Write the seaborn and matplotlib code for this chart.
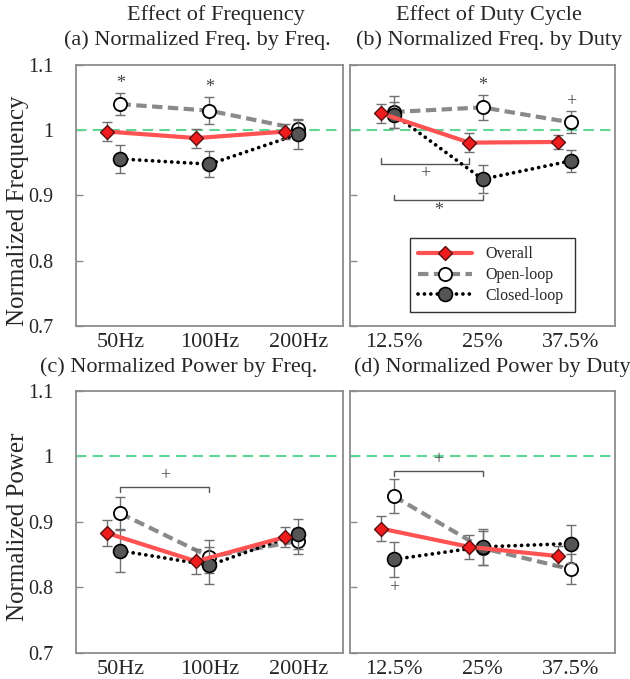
import numpy as np
import pandas as pd
import matplotlib
matplotlib.use("Agg")
import matplotlib.pyplot as plt
import seaborn as sns

# ---------------------------------------------------------
# Data
# ---------------------------------------------------------
freq_labels = ["50Hz", "100Hz", "200Hz"]
duty_labels = ["12.5%", "25%", "37.5%"]
series_names = ["Overall", "Open-loop", "Closed-loop"]

# (a) normalized frequency by stimulation frequency
a_overall = [0.998, 0.988, 0.998]
a_overall_err = [0.014, 0.0145, 0.012]
a_open = [1.040, 1.030, 1.002]
a_open_err = [0.017, 0.021, 0.015]
a_closed = [0.956, 0.948, 0.994]
a_closed_err = [0.022, 0.020, 0.022]

# (b) normalized frequency by duty cycle
b_overall = [1.026, 0.981, 0.982]
b_overall_err = [0.0145, 0.015, 0.010]
b_open = [1.028, 1.035, 1.012]
b_open_err = [0.024, 0.019, 0.017]
b_closed = [1.024, 0.925, 0.953]
b_closed_err = [0.020, 0.021, 0.017]

# (c) normalized power by stimulation frequency
c_overall = [0.883, 0.840, 0.877]
c_overall_err = [0.020, 0.019, 0.015]
c_open = [0.913, 0.847, 0.871]
c_open_err = [0.025, 0.025, 0.020]
c_closed = [0.856, 0.834, 0.882]
c_closed_err = [0.033, 0.028, 0.023]

# (d) normalized power by duty cycle
d_overall = [0.890, 0.862, 0.848]
d_overall_err = [0.019, 0.018, 0.015]
d_open = [0.939, 0.860, 0.828]
d_open_err = [0.026, 0.026, 0.023]
d_closed = [0.843, 0.862, 0.867]
d_closed_err = [0.027, 0.028, 0.029]

# significance marks on single points: (series, category index, symbol, side)
a_marks = [("Open-loop", 0, "*", "above"), ("Open-loop", 1, "*", "above")]
b_marks = [("Open-loop", 1, "*", "above"), ("Open-loop", 2, "+", "above")]
c_marks = []
d_marks = [("Closed-loop", 0, "+", "below")]

# brackets: (series from, idx from, series to, idx to, level, symbol, open direction)
a_brackets = []
b_brackets = [("Overall", 0, "Overall", 1, 0.949, "+", "up"),
              ("Closed-loop", 0, "Closed-loop", 1, 0.893, "*", "up")]
c_brackets = [("Open-loop", 0, "Open-loop", 1, 0.954, "+", "down")]
d_brackets = [("Open-loop", 0, "Open-loop", 1, 0.978, "+", "down")]

# ---------------------------------------------------------
# Styling
# ---------------------------------------------------------
sns.set_theme(style="white")
plt.rcParams["font.family"] = ["Liberation Serif", "DejaVu Serif"]

offsets = {"Overall": -0.15, "Open-loop": 0.0, "Closed-loop": 0.0}
styles = {
    "Overall": dict(color="#ff5252", linestyle="-", linewidth=3.0, marker="D",
                    markersize=7.5, markerfacecolor="#ee1c1c",
                    markeredgecolor="#5a1010", markeredgewidth=1.0, zorder=5),
    "Open-loop": dict(color="#8a8a8a", linestyle=(0, (2.5, 1.3)), linewidth=3.0,
                      marker="o", markersize=9.5, markerfacecolor="white",
                      markeredgecolor="black", markeredgewidth=1.3, zorder=3),
    "Closed-loop": dict(color="black", linestyle=(0, (0.01, 1.7)), linewidth=2.7,
                        dash_capstyle="round",
                        marker="o", markersize=10, markerfacecolor="#555555",
                        markeredgecolor="black", markeredgewidth=1.2, zorder=4),
}
spine_col = "#8c8c8c"
err_col = "#707070"
mark_col = "#444444"


def build_frame(labels, overall, overall_err, opn, opn_err, closed, closed_err):
    rows = []
    for name, vals, errs in [("Overall", overall, overall_err),
                             ("Open-loop", opn, opn_err),
                             ("Closed-loop", closed, closed_err)]:
        for i, (v, e) in enumerate(zip(vals, errs)):
            rows.append({"series": name, "idx": i, "label": labels[i],
                         "x": i + offsets[name], "value": v, "err": e})
    return pd.DataFrame(rows)


def draw_panel(ax, df, labels, marks, brackets, show_ylabels=True, legend=False):
    ax.axhline(1.0, color="#5fd694", linestyle=(0, (5, 3)), linewidth=1.5, zorder=1)
    for name in ["Open-loop", "Closed-loop", "Overall"]:
        sub = df[df["series"] == name]
        st = styles[name]
        ax.errorbar(sub["x"], sub["value"], yerr=sub["err"], fmt="none",
                    ecolor=err_col, elinewidth=1.0, capsize=3.5, capthick=1.0,
                    zorder=st["zorder"] - 0.5)
        sns.lineplot(data=sub, x="x", y="value", ax=ax, label=name,
                     errorbar=None, sort=True, **st)

    lookup = df.set_index(["series", "idx"])
    for name, i, sym, side in marks:
        v = lookup.loc[(name, i), "value"]
        e = lookup.loc[(name, i), "err"]
        x = i + offsets[name]
        if side == "above":
            ax.text(x, v + e + 0.002, sym, ha="center", va="bottom",
                    fontsize=13, color=mark_col)
        else:
            ax.text(x, v - e - 0.003, sym, ha="center", va="top",
                    fontsize=13, color=mark_col)

    for s0, i0, s1, i1, level, sym, direction in brackets:
        x0 = i0 + offsets[s0]
        x1 = i1 + offsets[s1]
        h = 0.008 if direction == "up" else -0.008
        ax.plot([x0, x0, x1, x1], [level + h, level, level, level + h],
                color="#555555", linewidth=1.0, zorder=2)
        if direction == "up":
            ax.text((x0 + x1) / 2, level - 0.003, sym, ha="center", va="top",
                    fontsize=13, color=mark_col)
        else:
            ax.text((x0 + x1) / 2, level + 0.004, sym, ha="center", va="bottom",
                    fontsize=13, color=mark_col)

    ax.set_xlim(-0.5, 2.5)
    ax.set_ylim(0.7, 1.1)
    ax.set_xticks(range(len(labels)))
    ax.set_xticklabels(labels, fontsize=16)
    ax.set_yticks([0.7, 0.8, 0.9, 1.0, 1.1])
    if show_ylabels:
        ax.set_yticklabels(["0.7", "0.8", "0.9", "1", "1.1"], fontsize=14.5)
    else:
        ax.set_yticklabels([])
    ax.tick_params(axis="x", length=0, pad=5)
    ax.tick_params(axis="y", direction="in", length=5, width=1.0,
                   color=spine_col, pad=16, left=True)
    ax.set_xlabel("")
    ax.set_ylabel("")
    for sp in ax.spines.values():
        sp.set_color(spine_col)
        sp.set_linewidth(1.3)

    if legend:
        handles, names = ax.get_legend_handles_labels()
        order = [names.index(n) for n in series_names]
        leg = ax.legend([handles[k] for k in order], [names[k] for k in order],
                        loc="lower left", bbox_to_anchor=(0.226, 0.054, 0.623, 0.291),
                        mode="expand", borderaxespad=0, fontsize=11.5,
                        handlelength=3.4, frameon=True, fancybox=False,
                        borderpad=0.5, labelspacing=0.3, handletextpad=0.8)
        leg.get_frame().set_edgecolor("black")
        leg.get_frame().set_linewidth(1.0)
    else:
        lg = ax.get_legend()
        if lg is not None:
            lg.remove()


fig = plt.figure(figsize=(6.3, 6.79), dpi=100)
ax_a = fig.add_axes([0.1206, 0.5199, 0.4238, 0.3844])
ax_b = fig.add_axes([0.5556, 0.5199, 0.4206, 0.3844])
ax_c = fig.add_axes([0.1206, 0.0383, 0.4238, 0.3859])
ax_d = fig.add_axes([0.5556, 0.0383, 0.4206, 0.3859])

df_a = build_frame(freq_labels, a_overall, a_overall_err, a_open, a_open_err, a_closed, a_closed_err)
df_b = build_frame(duty_labels, b_overall, b_overall_err, b_open, b_open_err, b_closed, b_closed_err)
df_c = build_frame(freq_labels, c_overall, c_overall_err, c_open, c_open_err, c_closed, c_closed_err)
df_d = build_frame(duty_labels, d_overall, d_overall_err, d_open, d_open_err, d_closed, d_closed_err)

draw_panel(ax_a, df_a, freq_labels, a_marks, a_brackets)
draw_panel(ax_b, df_b, duty_labels, b_marks, b_brackets, show_ylabels=False, legend=True)
draw_panel(ax_c, df_c, freq_labels, c_marks, c_brackets)
draw_panel(ax_d, df_d, duty_labels, d_marks, d_brackets, show_ylabels=False)

# titles
fig.text(0.343, 0.978, "Effect of Frequency", ha="center", va="center", fontsize=16)
fig.text(0.776, 0.978, "Effect of Duty Cycle", ha="center", va="center", fontsize=16)
fig.text(0.3135, 0.941, "(a) Normalized Freq. by Freq.", ha="center", va="center", fontsize=16)
fig.text(0.777, 0.941, "(b) Normalized Freq. by Duty", ha="center", va="center", fontsize=16)
fig.text(0.283, 0.459, "(c) Normalized Power by Freq.", ha="center", va="center", fontsize=16)
fig.text(0.782, 0.459, "(d) Normalized Power by Duty", ha="center", va="center", fontsize=16)

# y labels
fig.text(0.028, 0.69, "Normalized Frequency", rotation=90, ha="center", va="center", fontsize=18)
fig.text(0.028, 0.224, "Normalized Power", rotation=90, ha="center", va="center", fontsize=18)

fig.savefig("out.png", dpi=100)
plt.close(fig)
